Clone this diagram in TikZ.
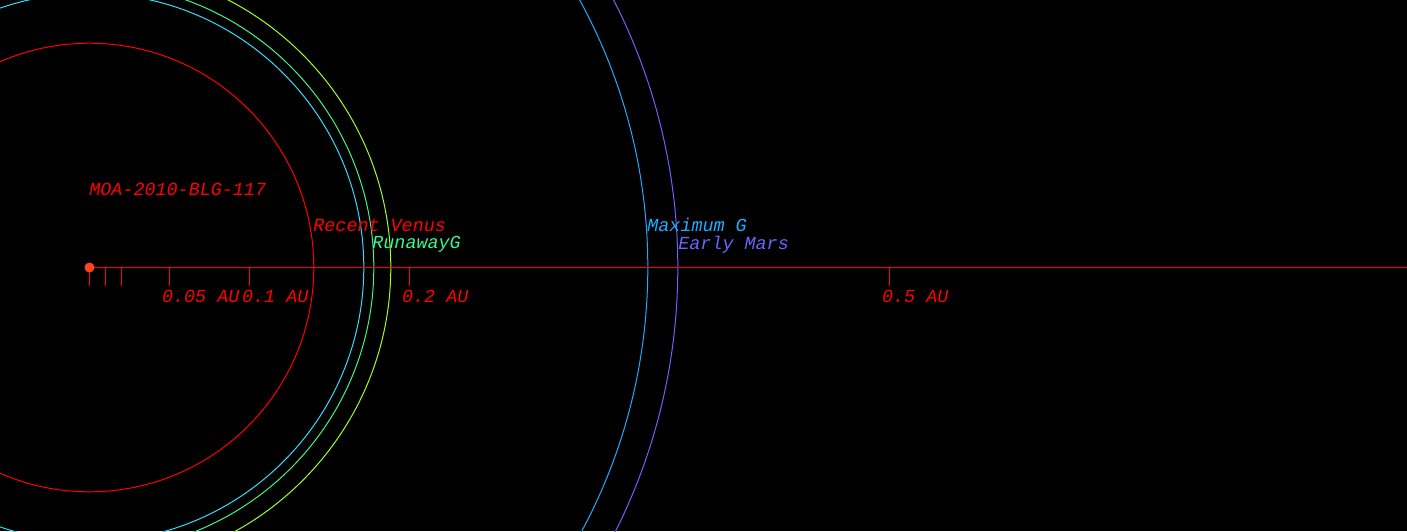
\documentclass[tikz,border=0pt]{standalone}
\usepackage{fontspec}
\setmonofont{Liberation Mono}
\usepackage{tikz}
\usetikzlibrary{positioning}
\definecolor{cBack}{HTML}{000000}
\definecolor{cRed}{HTML}{FF0000}
\definecolor{cStar}{HTML}{FF4422}
\definecolor{cCyan}{HTML}{33DDFF}
\definecolor{cGreen}{HTML}{3CF58C}
\definecolor{cLime}{HTML}{9CFF28}
\definecolor{cSky}{HTML}{22AAFF}
\definecolor{cViolet}{HTML}{6666FF}
\tikzset{
  orbit/.style={line width=0.5pt},
  lbl/.style={font=\fontsize{9.2}{10}\selectfont\ttfamily\itshape,anchor=base west,inner sep=0pt},
  axlbl/.style={lbl,text=cRed},
  tick/.style={draw=cRed,line width=0.5pt}}

\begin{document}
\begin{tikzpicture}[x=0.5pt,y=-0.5pt]
\useasboundingbox[fill=cBack] (0,0) rectangle (1407,531);
\clip (0,0) rectangle (1407,531);
\coordinate (star) at (89.5,267.5);
\coordinate (edge) at (1407,267.5);
% orbits
\draw[orbit,cRed]    (star) circle (224.3);
\draw[orbit,cCyan]   (star) circle (274.3);
\draw[orbit,cGreen]  (star) circle (284.3);
\draw[orbit,cLime]   (star) circle (301.3);
\draw[orbit,cSky]    (star) circle (558.3);
\draw[orbit,cViolet] (star) circle (588.3);
% axis
\draw[cRed,line width=0.5pt] (star)--(edge);
\foreach \px in {0,16,32,80,160,320,800}
  \draw[tick] ([xshift=\px*0.5pt]star)--++(0,18);
\node[axlbl] (l05) at ([xshift=72.2*0.5pt,yshift=-34.5*0.5pt]star) {0.05 AU};
\node[axlbl] (l1)  at ([xshift=152.2*0.5pt,yshift=-34.5*0.5pt]star) {0.1 AU};
\node[axlbl] (l2)  at ([xshift=312.2*0.5pt,yshift=-34.5*0.5pt]star) {0.2 AU};
\node[axlbl] (l5)  at ([xshift=792.2*0.5pt,yshift=-34.5*0.5pt]star) {0.5 AU};
% host star
\fill[cStar] (star) circle (5);
\node[lbl,text=cRed] (host) at (89,195) {MOA-2010-BLG-117};
% zone labels
\node[lbl,text=cRed]    (venus)  at (313,231) {Recent Venus};
\node[lbl,text=cGreen]  (runaway) at (372,248) {RunawayG};
\node[lbl,text=cSky]    (maxg)   at (647,231) {Maximum G};
\node[lbl,text=cViolet] (mars)   at (678,249) {Early Mars};
\end{tikzpicture}
\end{document}
